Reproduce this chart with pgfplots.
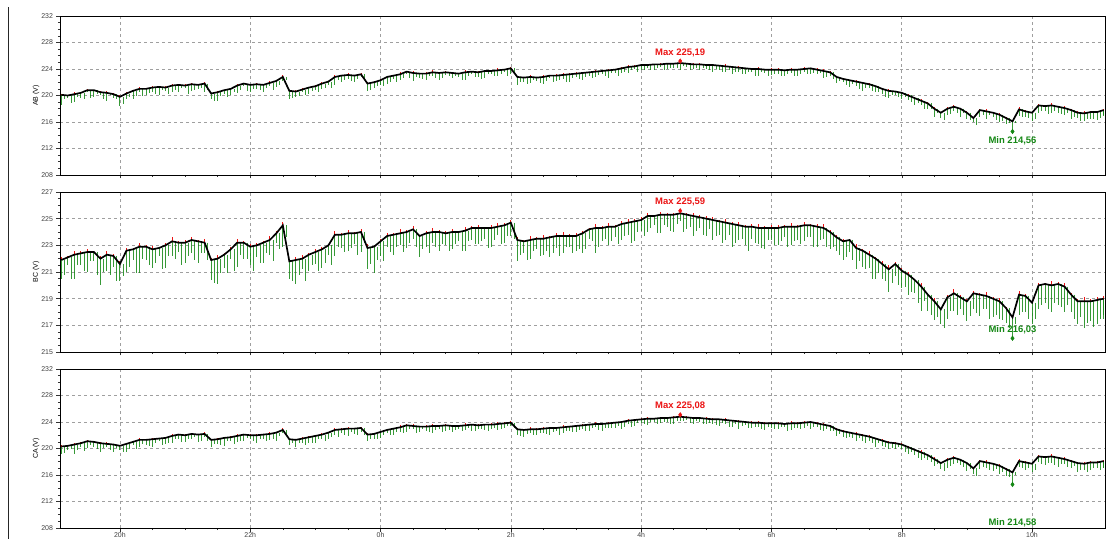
\documentclass[border=0pt]{standalone}
\usepackage{fontspec}
\setmainfont{Liberation Sans}
\usepackage{pgfplots}
\usepackage{pgfplotstable}
\pgfplotsset{compat=1.18}
\definecolor{grn}{RGB}{20,135,20}
\definecolor{rd}{RGB}{235,20,20}
\pgfplotstableread{
t ab abd bc bcd ca cad up tm abe bce cae
19.1 220.1 1.5 221.9 1.4 220.3 1.2 0.2 19.15 0.7 1.1 1.0
19.2 220.0 0.4 222.1 0.6 220.4 0.6 0.1 19.25 1.1 1.6 0.5
19.3 220.2 1.2 222.3 1.8 220.6 1.4 0.3 19.35 0.5 0.8 0.9
19.4 220.4 0.8 222.4 0.9 220.8 0.5 0.15 19.45 0.9 1.3 1.2
19.5 220.8 0.3 222.5 1.5 221.1 1.0 0.25 19.55 1.2 0.7 0.6
19.6 220.8 1.0 222.5 0.7 221.0 0.8 0.1 19.65 0.6 1.7 1.1
19.7 220.5 0.5 222.0 2.0 220.8 1.3 0.2 19.75 1.0 1.0 0.7
19.8 220.4 1.3 222.3 1.2 220.7 0.4 0.3 19.85 0.4 1.5 1.0
19.9 220.2 0.6 222.2 0.8 220.6 1.1 0.15 19.95 0.8 1.9 0.5
20.0 219.8 1.4 221.6 1.3 220.4 0.7 0.2 20.05 1.1 0.9 0.9
20.1 220.3 0.9 222.6 1.6 220.7 1.3 0.2 20.15 0.5 1.2 0.8
20.2 220.7 1.2 222.7 0.8 221.0 0.5 0.1 20.25 0.8 1.8 1.1
20.3 221.0 0.4 222.9 2.0 221.3 1.0 0.3 20.35 1.1 0.9 0.6
20.4 221.0 1.0 222.9 1.0 221.3 0.8 0.15 20.45 0.6 1.4 0.9
20.5 221.2 0.7 222.7 1.4 221.4 1.2 0.25 20.55 1.0 1.0 0.5
20.6 221.3 1.3 222.8 0.6 221.5 0.4 0.1 20.65 0.4 1.6 1.0
20.7 221.2 0.5 223.0 1.7 221.6 0.9 0.2 20.75 0.9 0.8 0.7
20.8 221.5 0.9 223.3 1.1 221.9 1.1 0.3 20.85 0.7 1.3 0.4
20.9 221.6 1.1 223.2 0.7 222.1 0.6 0.15 20.95 0.5 1.7 1.1
21.0 221.5 0.4 223.2 1.5 222.0 1.0 0.2 21.05 1.2 1.0 0.6
21.1 221.7 1.0 223.4 1.0 222.2 0.8 0.2 21.15 0.8 1.5 0.5
21.2 221.6 0.6 223.3 1.6 222.1 1.1 0.1 21.25 0.4 0.9 0.9
21.3 221.8 1.2 223.2 0.8 222.2 0.5 0.3 21.35 0.9 1.3 1.1
21.4 220.3 0.8 221.9 1.5 221.3 1.0 0.15 21.45 1.2 1.7 0.6
21.5 220.5 1.3 222.0 1.9 221.4 0.7 0.25 21.55 0.6 1.1 0.8
21.6 220.8 0.5 222.3 1.0 221.6 1.2 0.1 21.65 1.0 1.4 0.4
21.7 221.0 0.9 222.7 0.7 221.7 0.6 0.2 21.75 0.5 1.6 1.0
21.8 221.5 1.1 223.2 1.8 221.9 0.9 0.3 21.85 0.7 0.9 0.7
21.9 221.8 0.4 223.2 1.2 222.1 1.0 0.15 21.95 1.1 1.2 0.5
22.0 221.6 1.0 222.9 1.4 222.0 0.5 0.2 22.05 0.6 1.8 0.9
22.1 221.7 0.7 223.0 0.9 222.0 1.1 0.2 22.15 0.9 1.3 0.6
22.2 221.6 1.1 223.2 1.5 222.1 0.6 0.1 22.25 0.5 0.8 1.0
22.3 221.9 0.5 223.4 1.1 222.2 0.9 0.3 22.35 1.0 1.6 0.7
22.4 222.2 0.9 223.9 0.7 222.4 1.2 0.15 22.45 0.6 1.2 0.5
22.5 222.8 0.6 224.5 1.6 222.8 0.5 0.25 22.55 0.4 0.9 0.9
22.6 220.7 1.3 221.8 1.3 221.4 0.8 0.1 22.65 1.1 1.5 0.6
22.7 220.6 0.8 221.9 1.8 221.3 1.0 0.2 22.75 0.7 1.1 0.4
22.8 220.9 0.4 222.0 0.8 221.5 0.6 0.3 22.85 0.9 1.7 1.0
22.9 221.2 1.0 222.3 1.2 221.7 0.9 0.15 22.95 0.5 0.8 0.8
23.0 221.4 0.6 222.5 0.9 221.9 1.1 0.2 23.05 0.8 1.4 0.5
23.1 221.8 0.8 222.7 1.4 222.1 0.6 0.2 23.15 0.6 1.0 0.9
23.2 222.1 0.5 223.0 0.7 222.4 1.0 0.1 23.25 1.0 1.5 0.6
23.3 222.8 1.2 223.8 1.6 222.8 0.7 0.3 23.35 0.4 0.9 1.0
23.4 223.0 0.9 223.8 1.0 222.9 0.5 0.15 23.45 0.7 1.3 0.8
23.5 223.1 0.6 223.9 1.3 223.0 1.1 0.25 23.55 0.9 1.1 0.5
23.6 223.0 1.0 223.9 0.8 223.0 0.8 0.1 23.65 0.5 1.6 0.9
23.7 223.2 0.4 224.0 1.5 223.1 0.6 0.2 23.75 0.8 0.8 1.1
23.8 221.8 1.1 222.8 1.6 222.1 1.0 0.3 23.85 1.0 1.2 0.6
23.9 222.0 0.9 222.9 2.0 222.2 0.7 0.15 23.95 0.6 1.0 0.8
24.0 222.3 0.7 223.3 1.1 222.5 0.9 0.2 24.05 0.9 1.5 0.4
24.1 222.8 1.0 223.7 0.8 222.8 0.5 0.2 24.15 0.7 1.2 0.8
24.2 223.0 0.5 223.8 1.5 223.0 0.9 0.1 24.25 0.9 0.9 0.5
24.3 223.2 0.8 223.9 0.9 223.2 0.7 0.3 24.35 0.5 1.4 0.9
24.4 223.6 0.4 224.0 1.2 223.5 1.0 0.15 24.45 1.0 0.8 0.6
24.5 223.4 1.2 224.2 0.7 223.4 0.4 0.25 24.55 0.6 1.3 1.0
24.6 223.3 0.6 223.7 1.6 223.3 0.8 0.1 24.65 0.8 1.0 0.4
24.7 223.3 0.9 223.9 1.0 223.3 0.6 0.2 24.75 0.4 1.5 0.8
24.8 223.5 0.5 224.0 0.8 223.4 1.1 0.3 24.85 0.9 1.1 0.6
24.9 223.4 1.0 224.0 1.4 223.4 0.5 0.15 24.95 0.7 0.9 0.9
25.0 223.5 0.4 223.9 0.9 223.5 0.8 0.2 25.05 0.6 1.3 0.7
25.1 223.4 0.8 224.0 1.3 223.4 0.9 0.2 25.15 0.5 0.9 0.6
25.2 223.3 0.5 224.0 0.7 223.4 0.4 0.1 25.25 0.9 1.4 0.8
25.3 223.5 1.1 224.1 1.5 223.5 0.7 0.3 25.35 0.6 0.8 0.4
25.4 223.6 0.4 224.3 0.9 223.6 1.0 0.15 25.45 0.8 1.2 0.9
25.5 223.5 0.7 224.3 1.2 223.5 0.5 0.25 25.55 1.0 1.0 0.6
25.6 223.7 1.0 224.3 0.8 223.6 0.8 0.1 25.65 0.4 1.5 1.0
25.7 223.7 0.5 224.3 1.4 223.6 0.6 0.2 25.75 0.7 0.9 0.5
25.8 223.8 0.8 224.4 0.6 223.7 0.9 0.3 25.85 0.6 1.3 0.7
25.9 223.9 0.4 224.5 1.3 223.8 0.7 0.15 25.95 0.9 0.8 0.4
26.0 224.1 0.9 224.7 1.0 223.9 0.5 0.2 26.05 0.5 1.2 0.8
26.1 222.8 1.2 223.4 1.6 222.9 0.8 0.2 26.15 0.7 1.1 1.0
26.2 222.7 0.6 223.3 0.9 222.8 1.1 0.1 26.25 1.0 1.4 0.6
26.3 222.8 0.9 223.4 1.4 222.9 0.5 0.3 26.35 0.5 0.8 0.9
26.4 222.7 0.5 223.5 0.8 222.9 0.9 0.15 26.45 0.8 1.3 0.5
26.5 222.8 1.0 223.5 1.2 223.0 0.6 0.25 26.55 0.6 0.9 0.8
26.6 223.0 0.4 223.6 1.5 223.1 1.0 0.1 26.65 0.9 1.2 0.6
26.7 223.0 0.8 223.7 0.9 223.1 0.4 0.2 26.75 0.7 1.5 1.0
26.8 223.1 0.6 223.7 1.3 223.2 0.8 0.3 26.85 1.0 0.8 0.5
26.9 223.2 1.1 223.7 0.8 223.3 0.7 0.15 26.95 0.5 1.3 0.8
27.0 223.3 0.5 223.7 1.1 223.4 0.9 0.2 27.05 0.8 1.0 0.6
27.1 223.4 1.0 223.9 1.5 223.5 0.6 0.2 27.15 0.6 1.2 0.8
27.2 223.5 0.6 224.2 0.7 223.6 0.9 0.1 27.25 0.9 0.9 0.5
27.3 223.6 0.8 224.3 1.9 223.7 0.5 0.3 27.35 0.5 1.4 0.9
27.4 223.7 0.4 224.3 1.0 223.7 1.0 0.15 27.45 0.8 0.8 0.6
27.5 223.8 1.1 224.4 1.4 223.8 0.7 0.25 27.55 0.4 1.1 0.7
27.6 223.9 0.5 224.4 0.8 223.9 0.8 0.1 27.65 0.9 1.3 0.5
27.7 224.1 0.7 224.6 1.2 224.0 1.0 0.2 27.75 0.6 0.9 0.8
27.8 224.3 0.9 224.7 0.9 224.2 0.5 0.3 27.85 0.5 1.5 0.9
27.9 224.4 0.4 224.8 1.5 224.3 0.9 0.15 27.95 0.8 0.8 0.5
28.0 224.6 0.8 224.9 0.8 224.4 0.6 0.2 28.05 0.7 1.2 0.7
28.1 224.6 0.5 225.2 1.2 224.5 0.9 0.2 28.15 0.8 0.9 0.5
28.2 224.7 0.9 225.2 0.7 224.5 0.5 0.1 28.25 0.5 1.3 0.8
28.3 224.7 0.4 225.3 1.4 224.6 0.8 0.2 28.35 0.9 0.8 0.6
28.4 224.8 0.8 225.3 0.9 224.6 0.6 0.15 28.45 0.6 1.2 0.9
28.5 224.8 0.6 225.3 1.3 224.7 1.0 0.15 28.55 0.7 0.7 0.5
28.6 224.9 1.0 225.4 0.6 224.8 0.7 0.2 28.65 0.4 1.4 0.7
28.7 224.8 0.5 225.3 1.1 224.7 0.4 0.15 28.75 0.9 0.9 0.8
28.8 224.7 0.7 225.2 1.5 224.6 0.9 0.2 28.85 0.6 1.1 0.4
28.9 224.7 0.9 225.1 0.8 224.6 0.6 0.15 28.95 0.5 1.3 0.9
29.0 224.6 0.6 225.0 1.3 224.5 0.8 0.2 29.05 0.8 0.8 0.6
29.1 224.6 1.0 224.9 1.5 224.4 0.7 0.2 29.15 0.6 1.2 0.9
29.2 224.5 0.7 224.8 1.0 224.4 1.0 0.1 29.25 1.0 1.6 0.6
29.3 224.4 0.9 224.7 1.3 224.3 0.6 0.3 29.35 0.5 0.9 1.0
29.4 224.3 1.1 224.6 1.7 224.2 0.9 0.15 29.45 0.8 1.4 0.5
29.5 224.2 0.6 224.5 1.1 224.1 1.1 0.25 29.55 0.9 1.0 0.7
29.6 224.1 0.8 224.4 1.4 224.0 0.5 0.1 29.65 0.6 1.8 0.9
29.7 224.0 0.4 224.4 0.9 223.9 0.8 0.2 29.75 1.1 1.2 0.6
29.8 224.0 1.0 224.3 1.2 223.9 0.6 0.3 29.85 0.5 1.5 1.0
29.9 223.9 0.5 224.3 1.6 223.8 1.0 0.15 29.95 0.9 0.9 0.5
30.0 223.9 0.8 224.3 0.9 223.8 0.7 0.2 30.05 0.6 1.3 0.8
30.1 223.9 0.6 224.3 1.3 223.8 0.9 0.2 30.15 0.9 1.0 0.6
30.2 223.8 0.9 224.4 0.8 223.7 0.5 0.1 30.25 0.5 1.5 1.0
30.3 223.9 0.5 224.4 1.4 223.8 1.0 0.3 30.35 1.0 1.1 0.7
30.4 223.9 1.0 224.4 1.0 223.8 0.7 0.15 30.45 0.6 1.3 0.9
30.5 224.0 0.4 224.5 1.2 223.9 0.8 0.25 30.55 0.8 0.9 0.5
30.6 224.1 0.8 224.5 0.9 224.0 1.1 0.1 30.65 0.7 1.6 0.8
30.7 223.9 0.7 224.4 1.5 223.8 0.6 0.2 30.75 0.5 1.0 1.0
30.8 223.7 1.0 224.3 0.8 223.6 0.9 0.3 30.85 0.9 1.4 0.6
30.9 223.5 0.6 224.0 1.3 223.4 0.7 0.15 30.95 1.0 1.1 0.8
31.0 222.8 0.9 223.6 1.0 222.9 1.0 0.2 31.05 0.6 1.3 0.7
31.1 222.5 0.5 223.3 1.4 222.6 0.8 0.2 31.15 0.9 1.2 1.0
31.2 222.3 1.0 223.4 0.9 222.4 0.6 0.1 31.25 0.6 1.5 0.8
31.3 222.1 0.7 222.8 1.6 222.2 1.1 0.3 31.35 1.1 1.0 0.6
31.4 221.9 1.2 222.6 1.2 222.0 0.9 0.15 31.45 0.7 1.4 1.1
31.5 221.7 0.6 222.3 1.0 221.8 0.7 0.25 31.55 1.0 1.8 0.9
31.6 221.4 0.9 222.0 1.5 221.5 1.2 0.1 31.65 0.8 1.1 0.7
31.7 221.0 0.8 221.6 1.1 221.2 0.8 0.2 31.75 1.2 1.3 1.0
31.8 220.7 1.1 221.2 1.7 220.9 1.0 0.3 31.85 0.6 1.0 0.8
31.9 220.6 0.5 221.6 0.9 220.8 0.9 0.15 31.95 0.9 1.6 0.6
32.0 220.4 1.0 221.1 1.3 220.6 0.7 0.2 32.05 0.7 1.2 1.1
32.1 220.0 0.7 220.8 1.5 220.2 1.0 0.2 32.15 1.0 1.3 0.8
32.2 219.6 1.1 220.4 1.0 219.8 0.8 0.1 32.25 0.7 1.7 1.2
32.3 219.2 0.6 219.9 1.8 219.4 1.2 0.3 32.35 1.2 1.1 0.9
32.4 218.8 0.9 219.3 1.2 219.0 0.7 0.15 32.45 0.8 1.5 1.0
32.5 218.0 1.3 218.8 1.4 218.4 1.1 0.25 32.55 0.6 1.2 0.7
32.6 217.4 0.8 218.2 1.1 217.8 0.9 0.1 32.65 1.1 1.4 1.2
32.7 218.0 1.0 219.1 1.6 218.3 1.3 0.2 32.75 0.8 1.0 0.9
32.8 218.3 0.6 219.4 1.3 218.6 1.0 0.3 32.85 1.0 1.6 0.8
32.9 218.0 1.2 219.1 0.9 218.3 0.8 0.15 32.95 0.7 1.3 1.1
33.0 217.4 0.9 218.8 1.5 217.8 1.2 0.2 33.05 1.1 1.1 0.9
33.1 216.6 0.6 219.4 1.2 217.0 0.9 0.2 33.15 1.0 1.5 1.2
33.2 217.8 1.0 219.3 1.6 218.1 1.2 0.1 33.25 0.8 1.1 0.9
33.3 217.6 1.2 219.2 1.0 217.9 0.8 0.3 33.35 0.6 1.7 1.1
33.4 217.4 0.7 219.0 1.4 217.7 1.1 0.15 33.45 1.1 1.2 0.8
33.5 217.1 1.1 218.8 1.3 217.4 1.3 0.25 33.55 0.9 1.4 1.0
33.6 216.6 0.9 218.3 1.1 216.9 1.0 0.1 33.65 0.7 1.5 1.2
33.7 216.1 1.54 217.6 1.57 216.4 1.82 0.2 33.75 0.3 0.5 0.4
33.8 217.9 1.0 219.3 1.5 218.1 0.9 0.3 33.85 1.2 1.3 1.1
33.9 217.6 0.8 219.2 1.2 217.9 1.1 0.15 33.95 1.0 1.7 0.9
34.0 217.4 1.2 218.7 1.6 217.7 1.3 0.2 34.05 0.9 1.2 1.0
34.1 218.5 1.1 220.0 1.8 218.8 0.9 0.2 34.15 0.8 1.5 1.1
34.2 218.4 0.7 220.1 1.4 218.7 1.2 0.1 34.25 1.2 1.9 0.9
34.3 218.5 1.2 220.0 2.0 218.8 1.0 0.3 34.35 0.9 1.3 1.3
34.4 218.3 0.9 220.1 1.6 218.6 1.4 0.15 34.45 1.1 1.7 1.0
34.5 218.1 1.0 219.9 1.9 218.4 0.8 0.25 34.55 0.7 1.4 1.2
34.6 217.8 1.3 219.3 1.3 218.1 1.1 0.1 34.65 1.0 1.8 0.8
34.7 217.4 0.8 218.8 1.7 217.8 1.3 0.2 34.75 1.3 1.2 1.0
34.8 217.3 1.1 218.8 2.0 217.7 1.0 0.3 34.85 0.8 1.6 1.2
34.9 217.5 1.0 218.8 1.5 217.9 1.2 0.15 34.95 1.1 1.9 0.9
35.0 217.5 1.2 218.9 1.8 217.9 0.9 0.2 35.05 0.9 1.4 1.1
35.1 217.8 0.9 219.0 1.2 218.1 1.1 0.2 35.1 0.8 1.5 1.0
}\data
\pgfplotsset{
  panel/.style={
    scale only axis, width=1045bp, anchor=south west,
    xmin=19.08, xmax=35.12,
    xtick={20,22,...,34}, minor x tick num=3,
    tick align=outside, tick pos=left,
    major tick length=3.5bp, minor tick length=2bp,
    grid=major,
    major grid style={dash pattern=on 3bp off 3bp, gray!75, line width=0.6bp},
    axis line style={black, line width=0.8bp},
    every tick/.style={black!80, line width=0.5bp},
    tick label style={font=\fontsize{7}{8}\selectfont, text=black!75},
    xticklabel style={inner sep=0.5bp},
    /pgf/number format/assume math mode=true,
    ylabel style={font=\fontsize{7}{8}\selectfont, at={(axis description cs:-0.023,0.5)}, anchor=center},
    clip=false,
  },
  grn spikes/.style={draw=none, mark=none, forget plot,
    error bars/.cd, y dir=minus, y explicit, error mark=none,
    error bar style={draw=grn, line width=0.9bp, opacity=0.85}},
  red spikes/.style={draw=none, mark=none, forget plot,
    error bars/.cd, y dir=plus, y explicit, error mark=none,
    error bar style={draw=rd, line width=0.9bp}},
  meanline/.style={black, line width=1.7bp, mark=none},
  maxlab/.style={only marks, mark=diamond*, mark size=2.3bp, color=rd,
    every node near coord/.append style={anchor=south, yshift=1bp, text=rd, font=\bfseries\fontsize{9.5}{10}\selectfont}},
  minlab/.style={only marks, mark=diamond*, mark size=2.3bp, color=grn,
    every node near coord/.append style={text=grn, font=\bfseries\fontsize{9.5}{10}\selectfont}},
}
\begin{document}
\begin{tikzpicture}
\path[use as bounding box] (0,0) rectangle (1106bp,539bp);
\draw[black!85, line width=1bp] (8bp,0) -- (8bp,532bp);
% AB
\begin{axis}[panel, at={(60bp,364bp)}, height=159bp,
  ymin=208, ymax=232, ytick={208,212,...,232}, minor y tick num=3,
  xticklabels={}, ylabel={AB (V)}]
\addplot[grn spikes] table[x=t, y=ab, y error minus=abd] {\data};
\addplot[grn spikes] table[x=tm, y=ab, y error minus=abe] {\data};
\addplot[red spikes] table[x=t, y=ab, y error plus=up] {\data};
\addplot[meanline] table[x=t, y=ab] {\data};
\addplot[maxlab, nodes near coords={Max 225,19}] coordinates {(28.6,225.19)};
\addplot[minlab, nodes near coords={Min 214,56}, every node near coord/.append style={anchor=north, yshift=-2bp}] coordinates {(33.7,214.56)};
\end{axis}
% BC
\begin{axis}[panel, at={(60bp,187bp)}, height=160bp,
  ymin=215, ymax=227, ytick={215,217,...,227}, minor y tick num=3,
  xticklabels={}, ylabel={BC (V)}]
\addplot[grn spikes] table[x=t, y=bc, y error minus=bcd] {\data};
\addplot[grn spikes] table[x=tm, y=bc, y error minus=bce] {\data};
\addplot[red spikes] table[x=t, y=bc, y error plus=up] {\data};
\addplot[meanline] table[x=t, y=bc] {\data};
\addplot[maxlab, nodes near coords={Max 225,59}] coordinates {(28.6,225.59)};
\addplot[minlab, nodes near coords={Min 216,03}, every node near coord/.append style={anchor=south, yshift=1bp}] coordinates {(33.7,216.03)};
\end{axis}
% CA
\begin{axis}[panel, at={(60bp,11bp)}, height=159bp,
  ymin=208, ymax=232, ytick={208,212,...,232}, minor y tick num=3,
  xticklabels={20h,22h,0h,2h,4h,6h,8h,10h}, ylabel={CA (V)}]
\addplot[grn spikes] table[x=t, y=ca, y error minus=cad] {\data};
\addplot[grn spikes] table[x=tm, y=ca, y error minus=cae] {\data};
\addplot[red spikes] table[x=t, y=ca, y error plus=up] {\data};
\addplot[meanline] table[x=t, y=ca] {\data};
\addplot[maxlab, nodes near coords={Max 225,08}] coordinates {(28.6,225.08)};
\addplot[minlab, nodes near coords={Min 214,58}, every node near coord/.append style={anchor=north, yshift=-31bp}] coordinates {(33.7,214.58)};
\end{axis}
\end{tikzpicture}
\end{document}
